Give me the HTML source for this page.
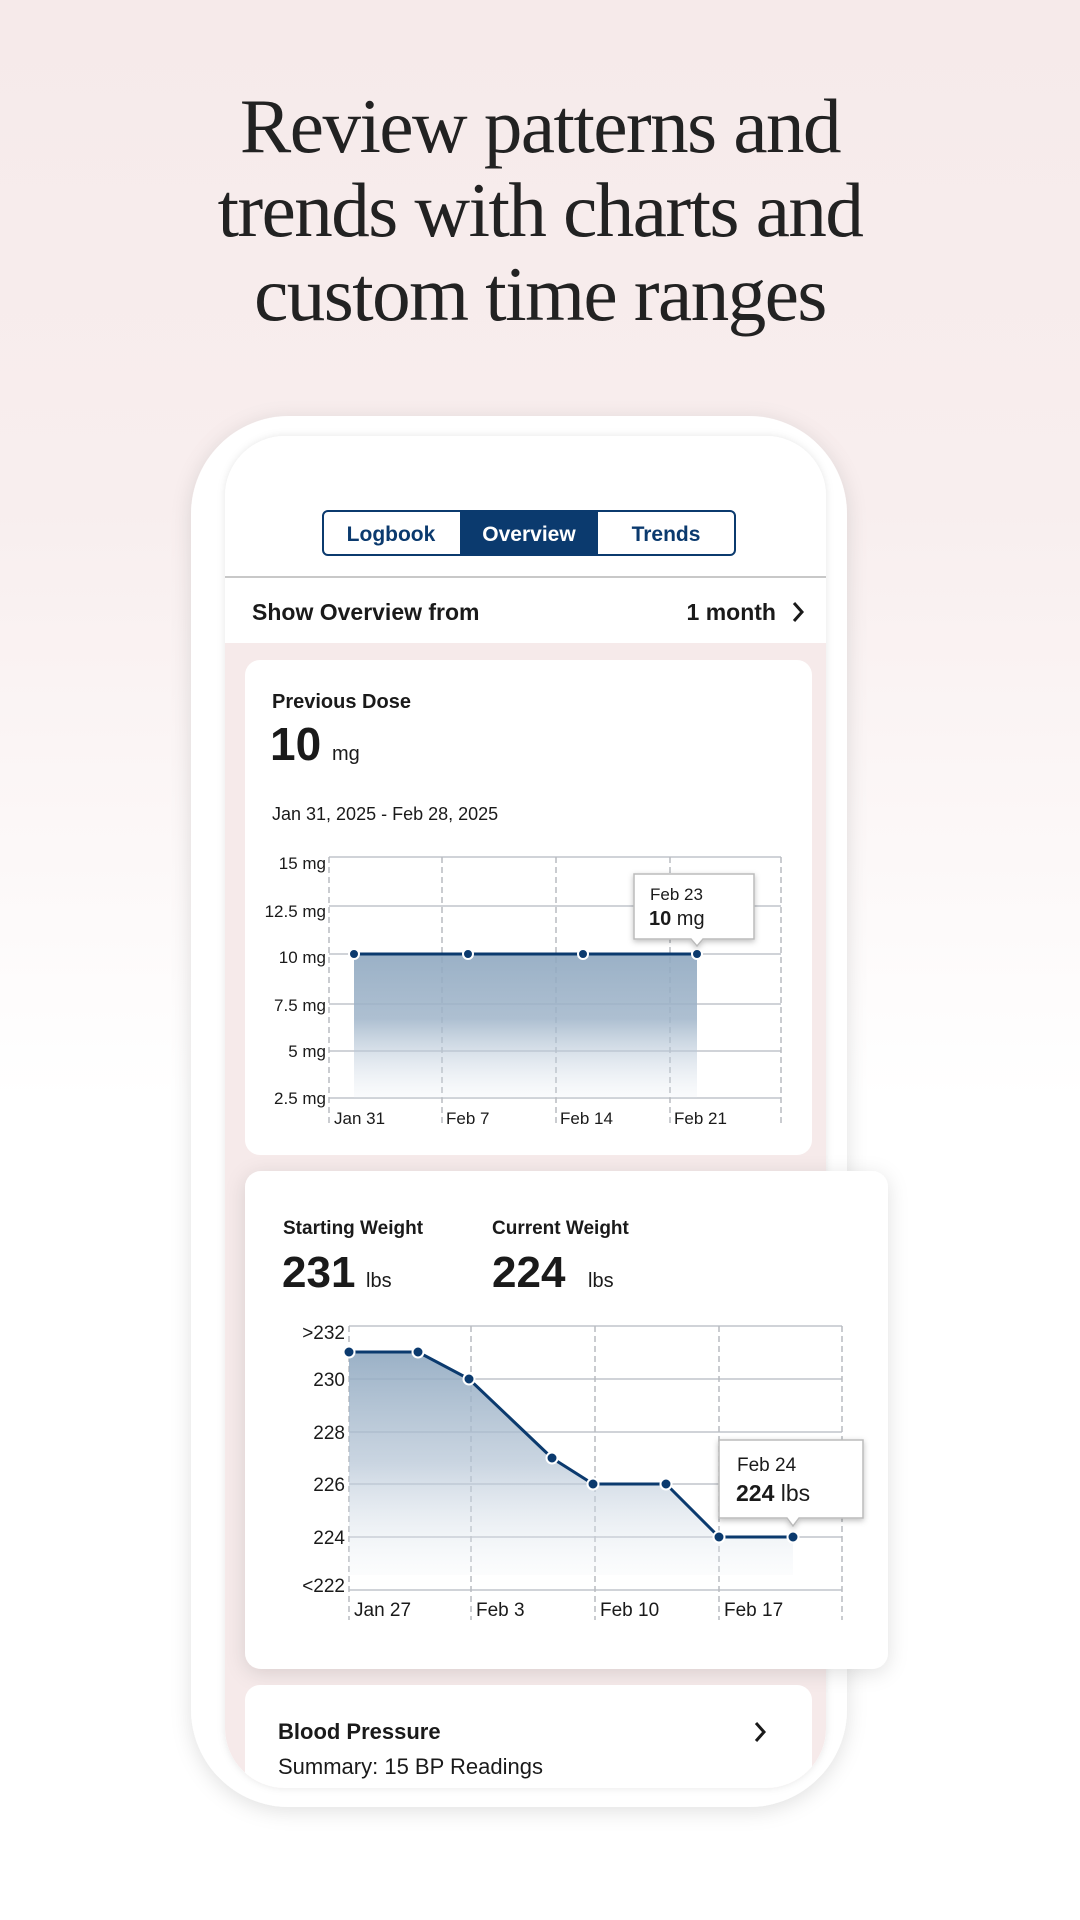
<!DOCTYPE html>
<html><head><meta charset="utf-8"><style>
html,body{margin:0;padding:0;}
body{width:1080px;height:1920px;overflow:hidden;background:linear-gradient(#f6eaea 0px,#f8eeee 500px,#ffffff 1100px,#ffffff 1920px);}
svg{display:block}
</style></head><body>
<svg width="1080" height="1920" viewBox="0 0 1080 1920" xmlns="http://www.w3.org/2000/svg" font-family="Liberation Sans, sans-serif">
<defs>
<linearGradient id="g1" x1="0" y1="0" x2="0" y2="1"><stop offset="0" stop-color="#8fa8c0" stop-opacity="0.9"/><stop offset="0.45" stop-color="#9fb4c9" stop-opacity="0.85"/><stop offset="1" stop-color="#dfe6ee" stop-opacity="0.15"/></linearGradient>
<linearGradient id="g2" x1="0" y1="0" x2="0" y2="1"><stop offset="0" stop-color="#8fa8c0" stop-opacity="0.9"/><stop offset="0.5" stop-color="#b3c3d4" stop-opacity="0.7"/><stop offset="1" stop-color="#eef2f6" stop-opacity="0.2"/></linearGradient>
<filter id="sh" x="-10%" y="-10%" width="120%" height="120%"><feDropShadow dx="0" dy="4" stdDeviation="10" flood-color="#000" flood-opacity="0.12"/></filter>
<filter id="sh2" x="-10%" y="-10%" width="130%" height="140%"><feDropShadow dx="0" dy="2" stdDeviation="3" flood-color="#000" flood-opacity="0.25"/></filter>
<filter id="sh3" x="-10%" y="-10%" width="120%" height="120%"><feDropShadow dx="0" dy="0" stdDeviation="4" flood-color="#000" flood-opacity="0.10"/></filter>
<clipPath id="scr"><rect x="225" y="436" width="601" height="1352" rx="60"/></clipPath>
</defs>
<g font-family="Liberation Serif, serif" font-size="77" fill="#222" text-anchor="middle" letter-spacing="-1.5">
<text x="540" y="152">Review patterns and</text>
<text x="540" y="236">trends with charts and</text>
<text x="540" y="320">custom time ranges</text>
</g>
<rect x="191" y="416" width="656" height="1391" rx="98" fill="#fff" filter="url(#sh)"/>
<rect x="225" y="436" width="601" height="1352" rx="60" fill="#fff" filter="url(#sh3)"/>
<g clip-path="url(#scr)">
<rect x="225" y="436" width="601" height="1352" fill="#fff"/>
<rect x="225" y="643" width="601" height="1145" fill="#f6eaea"/>
</g>
<!-- tabs -->
<rect x="323" y="511" width="412" height="44" rx="5" fill="#fff" stroke="#0b3a6e" stroke-width="2"/>
<rect x="460" y="511" width="138" height="44" fill="#0b3a6e"/>
<g font-weight="bold" font-size="21" text-anchor="middle">
<text x="391" y="541" fill="#0b3a6e">Logbook</text>
<text x="529" y="541" fill="#fff">Overview</text>
<text x="666" y="541" fill="#0b3a6e">Trends</text>
</g>
<line x1="225" y1="577" x2="826" y2="577" stroke="#c8c8c8" stroke-width="2"/>
<text x="252" y="620" font-size="23" font-weight="bold" fill="#1a1a1a">Show Overview from</text>
<text x="776" y="620" font-size="23" font-weight="bold" fill="#1a1a1a" text-anchor="end">1 month</text>
<path d="M794 603 L802 612 L794 621" fill="none" stroke="#1a1a1a" stroke-width="3"/>
<!-- card 1 -->
<rect x="245" y="660" width="567" height="495" rx="15" fill="#fff"/>
<text x="272" y="708" font-size="20" font-weight="bold" fill="#1a1a1a">Previous Dose</text>
<text x="270" y="760" font-size="46" font-weight="bold" fill="#1a1a1a">10</text>
<text x="332" y="760" font-size="20" fill="#1a1a1a">mg</text>
<text x="272" y="820" font-size="18" fill="#1a1a1a">Jan 31, 2025 - Feb 28, 2025</text>
<g stroke="#d0d3d8" stroke-width="2">
<line x1="329" y1="857" x2="781" y2="857"/><line x1="329" y1="906" x2="781" y2="906"/><line x1="329" y1="954" x2="781" y2="954"/><line x1="329" y1="1004" x2="781" y2="1004"/><line x1="329" y1="1051" x2="781" y2="1051"/><line x1="329" y1="1098" x2="781" y2="1098"/>
</g>
<g stroke="#b8bbc0" stroke-width="1.5" stroke-dasharray="6,4">
<line x1="329" y1="857" x2="329" y2="1127"/><line x1="442" y1="857" x2="442" y2="1127"/><line x1="556" y1="857" x2="556" y2="1127"/><line x1="670" y1="857" x2="670" y2="1127"/><line x1="781" y1="857" x2="781" y2="1127"/>
</g>
<g font-size="17" fill="#1a1a1a" text-anchor="end">
<text x="326" y="869">15 mg</text><text x="326" y="917">12.5 mg</text><text x="326" y="963">10 mg</text><text x="326" y="1011">7.5 mg</text><text x="326" y="1057">5 mg</text><text x="326" y="1104">2.5 mg</text>
</g>
<g font-size="17" fill="#1a1a1a">
<text x="334" y="1124">Jan 31</text><text x="446" y="1124">Feb 7</text><text x="560" y="1124">Feb 14</text><text x="674" y="1124">Feb 21</text>
</g>
<path d="M354 954 L697 954 L697 1098 L354 1098 Z" fill="url(#g1)"/>
<line x1="354" y1="954" x2="697" y2="954" stroke="#0b3a6e" stroke-width="3"/>
<g fill="#0b3a6e" stroke="#fff" stroke-width="2"><circle cx="354" cy="954" r="5"/><circle cx="468" cy="954" r="5"/><circle cx="583" cy="954" r="5"/><circle cx="697" cy="954" r="5"/></g>
<path d="M634 874 H754 V939 H703 L697 946 L691 939 H634 Z" fill="#fff" stroke="#bbb" stroke-width="1.5" filter="url(#sh2)"/>
<text x="650" y="900" font-size="17" fill="#1a1a1a">Feb 23</text>
<text x="649" y="925" font-size="20" fill="#1a1a1a"><tspan font-weight="bold">10</tspan> mg</text>
<!-- card 2 -->
<rect x="245" y="1171" width="643" height="498" rx="16" fill="#fff" filter="url(#sh)"/>
<text x="283" y="1234" font-size="19" font-weight="bold" fill="#1a1a1a">Starting Weight</text>
<text x="492" y="1234" font-size="19" font-weight="bold" fill="#1a1a1a">Current Weight</text>
<text x="282" y="1287" font-size="44" font-weight="bold" fill="#1a1a1a">231</text>
<text x="366" y="1287" font-size="20" fill="#1a1a1a">lbs</text>
<text x="492" y="1287" font-size="44" font-weight="bold" fill="#1a1a1a">224</text>
<text x="588" y="1287" font-size="20" fill="#1a1a1a">lbs</text>
<g stroke="#d0d3d8" stroke-width="2">
<line x1="349" y1="1326" x2="842" y2="1326"/><line x1="349" y1="1379" x2="842" y2="1379"/><line x1="349" y1="1432" x2="842" y2="1432"/><line x1="349" y1="1484" x2="842" y2="1484"/><line x1="349" y1="1537" x2="842" y2="1537"/><line x1="349" y1="1590" x2="842" y2="1590"/>
</g>
<g stroke="#b8bbc0" stroke-width="1.5" stroke-dasharray="6,4">
<line x1="349" y1="1326" x2="349" y2="1620"/><line x1="471" y1="1326" x2="471" y2="1620"/><line x1="595" y1="1326" x2="595" y2="1620"/><line x1="719" y1="1326" x2="719" y2="1620"/><line x1="842" y1="1326" x2="842" y2="1620"/>
</g>
<g font-size="19" fill="#1a1a1a" text-anchor="end">
<text x="345" y="1339">&gt;232</text><text x="345" y="1386">230</text><text x="345" y="1439">228</text><text x="345" y="1491">226</text><text x="345" y="1544">224</text><text x="345" y="1592">&lt;222</text>
</g>
<g font-size="19" fill="#1a1a1a">
<text x="354" y="1616">Jan 27</text><text x="476" y="1616">Feb 3</text><text x="600" y="1616">Feb 10</text><text x="724" y="1616">Feb 17</text>
</g>
<path d="M349 1352 L418 1352 L469 1379 L552 1458 L593 1484 L666 1484 L719 1537 L793 1537 L793 1575 L349 1575 Z" fill="url(#g2)"/>
<polyline points="349,1352 418,1352 469,1379 552,1458 593,1484 666,1484 719,1537 793,1537" fill="none" stroke="#0b3a6e" stroke-width="3"/>
<g fill="#0b3a6e" stroke="#fff" stroke-width="2"><circle cx="349" cy="1352" r="5.5"/><circle cx="418" cy="1352" r="5.5"/><circle cx="469" cy="1379" r="5.5"/><circle cx="552" cy="1458" r="5.5"/><circle cx="593" cy="1484" r="5.5"/><circle cx="666" cy="1484" r="5.5"/><circle cx="719" cy="1537" r="5.5"/><circle cx="793" cy="1537" r="5.5"/></g>
<path d="M719 1440 H863 V1518 H799 L793 1526 L787 1518 H719 Z" fill="#fff" stroke="#bbb" stroke-width="1.5" filter="url(#sh2)"/>
<text x="737" y="1471" font-size="19" fill="#1a1a1a">Feb 24</text>
<text x="736" y="1501" font-size="23" fill="#1a1a1a"><tspan font-weight="bold">224</tspan> lbs</text>
<!-- card 3 -->
<g clip-path="url(#scr)">
<rect x="245" y="1685" width="567" height="140" rx="15" fill="#fff"/>
</g>
<text x="278" y="1739" font-size="22" font-weight="bold" fill="#1a1a1a">Blood Pressure</text>
<text x="278" y="1774" font-size="22" fill="#1a1a1a">Summary: 15 BP Readings</text>
<path d="M756 1723 L764 1732 L756 1741" fill="none" stroke="#1a1a1a" stroke-width="3"/>
</svg>
</body></html>
